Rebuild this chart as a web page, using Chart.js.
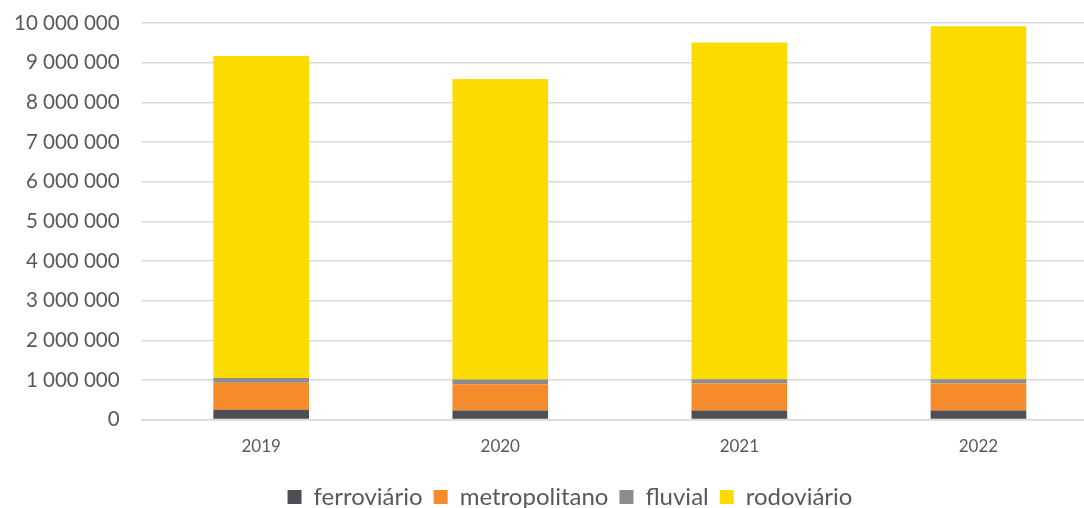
<!DOCTYPE html>
<html>
<head>
<meta charset="utf-8">
<script src="https://cdn.jsdelivr.net/npm/chart.js@4"></script>
<style>
html,body{margin:0;padding:0;background:#fff;overflow:hidden;}
#wrap{width:1140px;height:519px;position:relative;}
</style>
</head>
<body>
<div id="wrap"><canvas id="c"></canvas></div>
<script>
const years = ["2019", "2020", "2021", "2022"];
const ferroviario = [250000, 230000, 230000, 230000];
const metropolitano = [680000, 660000, 680000, 680000];
const fluvial = [120000, 120000, 110000, 110000];
const rodoviario = [8120000, 7580000, 8490000, 8900000];
const yTicks = [0, 1000000, 2000000, 3000000, 4000000, 5000000, 6000000, 7000000, 8000000, 9000000, 10000000];

const fmt = v => String(v).replace(/\B(?=(\d{3})+(?!\d))/g, " ");
const FONT = "Lato";

const legendShift = {
  id: "legendShift",
  afterLayout(chart) {
    const l = chart.legend;
    if (l) { l.left += 14; l.right += 14; }
  }
};

new Chart(document.getElementById("c"), {
  type: "bar",
  data: {
    labels: years,
    datasets: [
      {label: "ferroviário", data: ferroviario, backgroundColor: "#4d4f54"},
      {label: "metropolitano", data: metropolitano, backgroundColor: "#f68b2c"},
      {label: "fluvial", data: fluvial, backgroundColor: "#8c8c8c"},
      {label: "rodoviário", data: rodoviario, backgroundColor: "#fcdc00"}
    ]
  },
  plugins: [legendShift],
  options: {
    responsive: true,
    maintainAspectRatio: false,
    animation: false,
    datasets: {bar: {barPercentage: 1, categoryPercentage: 0.4, borderWidth: 0}},
    layout: {padding: {top: 23, right: 42, left: 14, bottom: 0}},
    plugins: {
      tooltip: {enabled: false},
      legend: {
        position: "bottom",
        labels: {
          font: {family: FONT, size: 24},
          color: "#595959",
          boxWidth: 14, boxHeight: 14,
          padding: 11
        }
      }
    },
    scales: {
      x: {
        stacked: true,
        grid: {display: false, drawTicks: false},
        border: {display: true, color: "#d9d9d9", width: 1.5},
        ticks: {font: {family: FONT, size: 17}, color: "#595959", padding: 17}
      },
      y: {
        stacked: true,
        min: 0, max: 10000000,
        afterBuildTicks: ax => { ax.ticks = yTicks.map(v => ({value: v})); },
        grid: {color: "#d9d9d9", lineWidth: 1.5, drawTicks: true, tickLength: 22, tickColor: "rgba(0,0,0,0)"},
        border: {display: false},
        ticks: {font: {family: FONT, size: 20.5}, color: "#595959", padding: 0, callback: v => fmt(v)}
      }
    }
  }
});
</script>
</body>
</html>
